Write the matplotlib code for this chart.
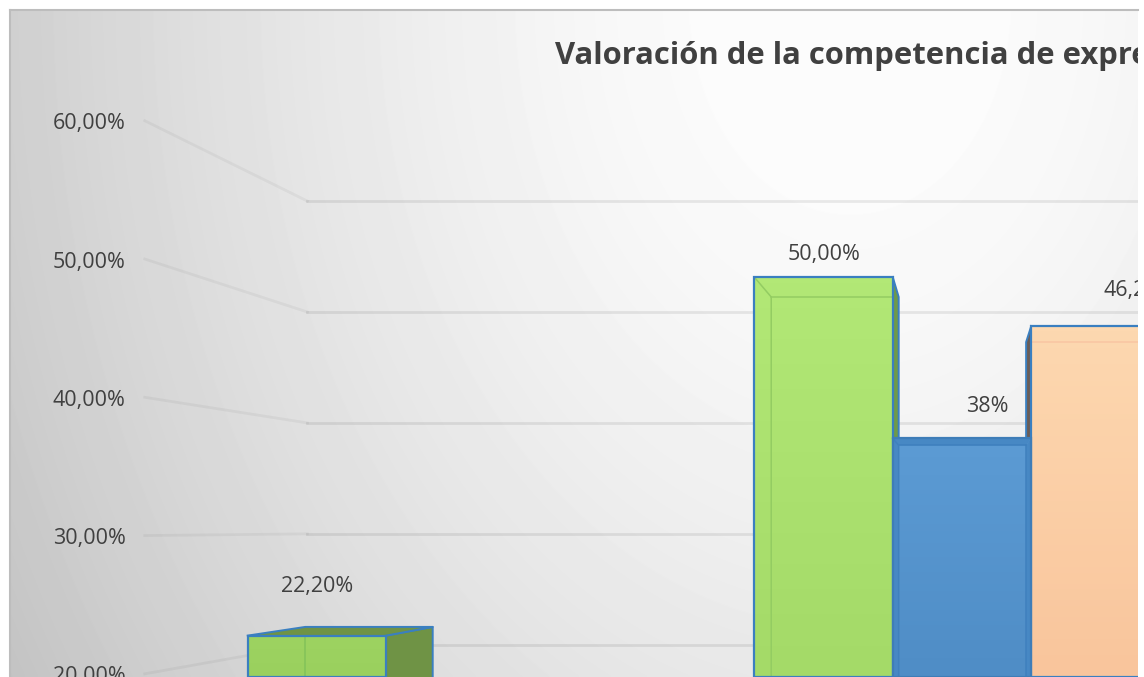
import matplotlib
matplotlib.use("Agg")
import matplotlib.pyplot as plt
import numpy as np
from matplotlib.colors import LinearSegmentedColormap

plt.rcParams['font.family'] = ['Open Sans', 'DejaVu Sans']

# data (group 1 blue/orange fall below the crop)
title = "Valoración de la competencia de expresión oral"
grid_values = [20, 30, 40, 50, 60]
grid_labels = ["20,00%", "30,00%", "40,00%", "50,00%", "60,00%"]
green_values = [22.2, 50.0]
blue_values = [np.nan, 37.5]
orange_values = [np.nan, 46.2]
green_labels = ["22,20%", "50,00%"]
blue_labels = ["", "38%"]
orange_labels = ["", "46,20%"]

# perspective of the fake 3d box, in data units
VP_X, VP_Y = 1.01, 30.62
S_BACK = 0.92
S_WALL = 0.86
S_NEAR = 1.072
WALL_X = -0.5045
BAR_W = 0.2735
EDGE = "#3A7FC0"


def project(x, y, s):
    return VP_X + (x - VP_X) * s, VP_Y + (y - VP_Y) * s


fig = plt.figure(figsize=(11.44, 6.77), dpi=100)
ax = fig.add_axes([10 / 1144, 0, 1128 / 1144, 667 / 677])
xlim = (-0.8796, 1.3475)
ylim = (18.99, 70.70)

# background, grey on the left going to white top right
px, py = np.meshgrid(np.arange(10, 1138), np.arange(10, 677))
dist = np.hypot(px - 850, (py - 0) * 0.75)
grey = np.clip(255 - 0.00195 * dist ** 1.5, 190, 252)
ax.imshow(grey, cmap="gray", vmin=0, vmax=255, aspect="auto", interpolation="bilinear",
          extent=(xlim[0], xlim[1], ylim[0], ylim[1]), zorder=0)

# gridlines on side wall and back wall
for v, lab in zip(grid_values, grid_labels):
    x0, y0 = project(WALL_X, v, S_NEAR)
    x1, y1 = project(WALL_X, v, S_WALL)
    x2, y2 = project(xlim[1] + 1, v, S_WALL)
    ax.plot([x0, x1], [y0, y1], color="black", alpha=0.045, lw=2, zorder=1)
    ax.plot([x1, x2], [y1, y2], color="black", alpha=0.08, lw=2, zorder=1)
    ax.annotate(lab, (x0, y0), xytext=(-13.7, -2.2), textcoords="offset points",
                ha="right", va="center", fontsize=15.5, color="#404040",
                annotation_clip=False)


def draw_side(x, v, dark):
    if np.isnan(v):
        return
    left = x - BAR_W / 2
    right = x + BAR_W / 2
    low = ylim[0]
    bl, bt = project(left, v, S_BACK)
    br, _ = project(right, v, S_BACK)
    if br > right:
        ax.fill([right, br, br, right], [v, bt, low, low], color=dark, lw=0, zorder=2)
        ax.plot([right, br, br], [v, bt, low], color=EDGE, lw=1.4, zorder=2)
    if bl < left:
        ax.fill([left, bl, bl, left], [v, bt, low, low], color=dark, lw=0, zorder=2)
        ax.plot([left, bl, bl], [v, bt, low], color=EDGE, lw=1.4, zorder=2)
    if v < VP_Y:
        ax.fill([left, bl, br, right], [v, bt, bt, v], color=dark, lw=0, zorder=2)
        ax.plot([left, bl, br, right], [v, bt, bt, v], color=EDGE, lw=1.4, zorder=2)


def draw_front(x, v, top_col, bot_col, band, line, edge, z):
    if np.isnan(v):
        return
    left = x - BAR_W / 2
    right = x + BAR_W / 2
    low = ylim[0]
    bl, bt = project(left, v, S_BACK)
    br, _ = project(right, v, S_BACK)
    cmap = LinearSegmentedColormap.from_list("f", [top_col, bot_col])
    ramp = np.linspace(0, 1, 64).reshape(-1, 1)
    ax.imshow(ramp, cmap=cmap, vmin=0, vmax=1, aspect="auto", origin="upper",
              extent=(left, right, low, v), zorder=z)
    # the sides of the box show through the front as darker bands
    if v > VP_Y:
        inner_l = max(bl, left)
        inner_r = min(br, right)
        if band:
            ax.fill([left, right, inner_r, inner_l], [v, v, bt, bt], color=band, lw=0, zorder=z)
            if bl > left:
                ax.fill([left, inner_l, inner_l, left], [v, bt, low, low], color=band, lw=0, zorder=z)
            if br < right:
                ax.fill([right, inner_r, inner_r, right], [v, bt, low, low], color=band, lw=0, zorder=z)
        ax.plot([inner_l, inner_r], [bt, bt], color=line, lw=1.1, zorder=z)
        if bl > left:
            ax.plot([left, bl, bl], [v, bt, low], color=line, lw=1.1, zorder=z)
        if br < right:
            ax.plot([br, br], [bt, low], color=line, lw=1.1, zorder=z)
    else:
        ax.plot([bl, bl], [low, v], color=line, lw=1.3, zorder=z)
    ax.bar(x, v - low, BAR_W, bottom=low, facecolor="none", edgecolor=edge, lw=1.6, zorder=z)


group_x = [0, 1]
# sides first, the fronts of the neighbours cover them
for i, x in enumerate(group_x):
    draw_side(x - BAR_W, green_values[i], "#6F9345" if i == 0 else "#6E9A48")
    draw_side(x + BAR_W, orange_values[i], "#6B5C55")
for i, x in enumerate(group_x):
    if i == 0:
        draw_front(x - BAR_W, green_values[i], "#9DD361", "#9AD05E", None, "#86C45A", EDGE, 3)
    else:
        draw_front(x - BAR_W, green_values[i], "#B2E876", "#A4DA68", None, "#93CC62", EDGE, 3)
    draw_front(x + BAR_W, orange_values[i], "#FDD8B0", "#F9C59C", None, "#F9C6A2", EDGE, 4)
    draw_front(x, blue_values[i], "#5C9BD4", "#4F8DC6", "#4788C4", "#3F80BE", "#3E7DB8", 5)

# value labels, moved by hand the way they sit in the original
for i, x in enumerate(group_x):
    ax.annotate(green_labels[i], (x - BAR_W, green_values[i]),
                xytext=(0.4, [35.2, 16.3][i]), textcoords="offset points",
                ha="center", va="center", fontsize=15.5, color="#404040", zorder=6)
    if blue_labels[i]:
        ax.annotate(blue_labels[i], (x, blue_values[i]),
                    xytext=(18.5, 22.9), textcoords="offset points",
                    ha="center", va="center", fontsize=15.5, color="#404040", zorder=6)
    if orange_labels[i]:
        t = ax.annotate(orange_labels[i], (x + BAR_W, orange_values[i]),
                        xytext=(1.8, 25.8), textcoords="offset points",
                        ha="left", va="center", fontsize=15.5, color="#404040", zorder=6)
        t.set_clip_box(ax.bbox)
        t.set_clip_on(True)

ax.text(0.1964, 67.13, title, fontsize=22.3, fontweight="bold", color="#404040",
        ha="left", va="center", clip_on=True, zorder=6)

ax.set_xlim(xlim)
ax.set_ylim(ylim)
ax.set_xticks([])
ax.set_yticks([])
for side in ["right", "bottom"]:
    ax.spines[side].set_visible(False)
for side in ["top", "left"]:
    ax.spines[side].set_color("#bdbdbd")
    ax.spines[side].set_linewidth(1.5)

fig.savefig("out.png", dpi=100)
